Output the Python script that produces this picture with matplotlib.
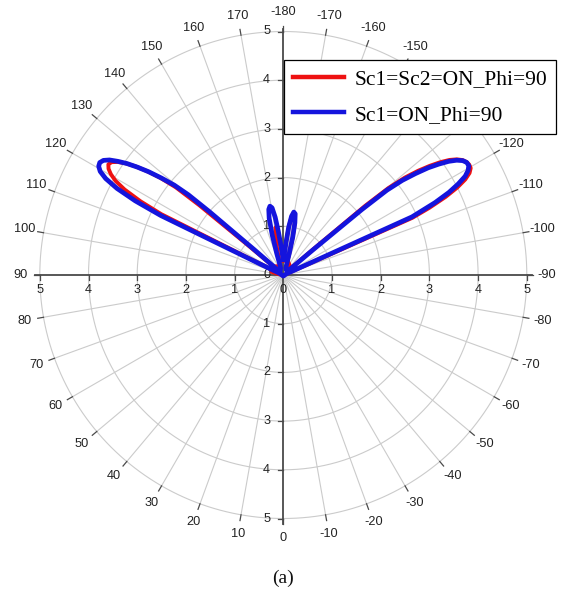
import numpy as np
import matplotlib
matplotlib.use("Agg")
import matplotlib.pyplot as plt

# ---------------- data ----------------
series_labels = ["Sc1=Sc2=ON_Phi=90", "Sc1=ON_Phi=90"]

# Sc1=Sc2=ON (red): angle in degrees, magnitude
red_deg = [-180, -177, -175, -173.5, -172, -170.5, -169, -167.5, -166, -164.5,
           -163, -158, -150, -140, -133, -131.3, -130.6, -130.2, -129.6, -128.7,
           -127.7, -126.7, -125.7, -124.7, -123.7, -122.7, -121.7, -120.7, -119.7, -118.7,
           -117.7, -116.7, -115.7, -114.7, -113.9, -113.3, -111, -105, -90, -60,
           -30, 0, 30, 60, 90, 100, 105, 110, 114, 115.8,
           116.5, 117.3, 118.3, 119.3, 120.3, 121.3, 122.3, 123.3, 124.3, 125.3,
           126.3, 127.3, 128.3, 129.2, 129.7, 130.1, 130.8, 135, 145, 155,
           162, 165, 167, 169, 170.5, 171.5, 172.5, 173.5, 175, 177,
           180]
red_r = [0.3, 0.45, 0.7, 1.0, 1.2, 1.3, 1.27, 1.1, 0.8, 0.45,
         0.3, 0.28, 0.25, 0.2, 0.15, 0.3, 1.0, 2.2, 2.8, 3.2,
         3.5, 3.75, 3.97, 4.15, 4.28, 4.37, 4.42, 4.44, 4.43, 4.36,
         4.22, 4.0, 3.7, 3.3, 2.9, 0.5, 0.1, 0.05, 0.03, 0.02,
         0.02, 0.02, 0.02, 0.02, 0.03, 0.1, 0.25, 0.25, 0.15, 0.5,
         2.8, 3.3, 3.7, 3.95, 4.1, 4.2, 4.25, 4.22, 4.12, 3.97,
         3.77, 3.52, 3.22, 2.85, 2.25, 1.0, 0.3, 0.25, 0.22, 0.2,
         0.2, 0.35, 0.6, 0.85, 0.98, 1.0, 0.92, 0.75, 0.6, 0.45,
         0.3]

# Sc1=ON (blue)
blue_deg = [-180, -177, -175, -173.5, -172, -170.5, -169, -167.5, -166, -164.5,
            -163, -160, -150, -140, -133, -131, -130.3, -129.8, -129.3, -128.5,
            -127.5, -126.5, -125.5, -124.5, -123.5, -122.5, -121.5, -120.5, -119.5, -118.5,
            -117.5, -116.5, -115.5, -114.3, -113.6, -112, -100, -90, -60, -30,
            0, 30, 60, 90, 100, 110, 113, 115, 115.3, 115.9,
            116.6, 117.5, 118.5, 119.5, 120.5, 121.5, 122.5, 123.5, 124.5, 125.5,
            126.5, 127.5, 128.5, 129.5, 130.2, 130.6, 131.1, 131.8, 133, 140,
            150, 158, 161, 163, 164.5, 166, 167.5, 169, 170.5, 172,
            173.5, 175, 177, 180]
blue_r = [0.32, 0.45, 0.7, 1.0, 1.22, 1.31, 1.28, 1.1, 0.8, 0.45,
          0.25, 0.15, 0.12, 0.12, 0.12, 0.2, 0.8, 2.1, 2.75, 3.12,
          3.42, 3.7, 3.92, 4.12, 4.27, 4.37, 4.42, 4.42, 4.36, 4.25,
          4.05, 3.8, 3.45, 2.9, 0.3, 0.08, 0.04, 0.03, 0.02, 0.02,
          0.02, 0.02, 0.02, 0.03, 0.04, 0.06, 0.08, 0.12, 0.5, 2.8,
          3.4, 3.85, 4.15, 4.32, 4.4, 4.42, 4.38, 4.28, 4.12, 3.94,
          3.72, 3.48, 3.2, 2.9, 2.55, 2.0, 0.8, 0.2, 0.12, 0.1,
          0.12, 0.15, 0.2, 0.45, 0.85, 1.2, 1.38, 1.44, 1.4, 1.2,
          0.9, 0.65, 0.45, 0.32]

radial_ticks = [1, 2, 3, 4, 5]
# -130 and -140 are hidden behind the legend in the reference
angle_ticks = [a for a in range(-170, 181, 10) if a not in (-130, -140)]
angle_labels = ["-180" if a == 180 else str(a) for a in angle_ticks]
caption = "(a)"

# ---------------- figure ----------------
W, H = 563, 603
fig = plt.figure(figsize=(W / 100, H / 100), dpi=100)
fig.patch.set_facecolor("white")

cx, cy, R = 283.3, 275.0, 243.5
ax = fig.add_axes([(cx - R) / W, (H - cy - R) / H, 2 * R / W, 2 * R / H],
                  projection="polar")
ax.set_theta_zero_location("S")
ax.set_theta_direction(-1)
ax.set_ylim(0, 5)
ax.set_xticks([])
ax.set_yticks([])
ax.grid(False)
ax.spines["polar"].set_visible(False)
ax.patch.set_alpha(0)

GRID = "#cbcbcb"
AXC = "#4a4a4a"
TXT = "#222222"
FS = 9.2
sans = ["Liberation Sans", "DejaVu Sans"]
serif = ["Liberation Serif", "DejaVu Serif"]


def cart(x, y):
    """cartesian (x right, y up) -> (theta radians, r) for this polar layout"""
    x = np.asarray(x, float)
    y = np.asarray(y, float)
    return np.arctan2(-x, -y), np.hypot(x, y)


# grid circles
tt = np.linspace(0, 2 * np.pi, 721)
for rr in radial_ticks:
    ax.plot(tt, np.full_like(tt, rr), color=GRID, lw=0.8, zorder=1, clip_on=False)
# spokes
for a in range(0, 360, 10):
    if a % 90 == 0:
        continue
    ax.plot([np.deg2rad(a)] * 2, [0, 5], color=GRID, lw=0.8, zorder=1)
# angular tick marks
for a in range(-170, 181, 10):
    ax.plot([np.deg2rad(a)] * 2, [5.0, 5.12], color=AXC, lw=0.9, zorder=2, clip_on=False)
# angular labels
for a, lab in zip(angle_ticks, angle_labels):
    ax.text(np.deg2rad(a), 5.4, lab, ha="center", va="center", fontsize=FS,
            color=TXT, family=sans, clip_on=False)

# cartesian cross axes
t, r = cart([-5.1, 5.1], [0, 0])
ax.plot([t[0], t[0]], [0, r[0]], color=AXC, lw=1.3, zorder=3, clip_on=False)
ax.plot([t[1], t[1]], [0, r[1]], color=AXC, lw=1.3, zorder=3, clip_on=False)
ax.plot([np.pi, np.pi], [0, 5.05], color=AXC, lw=1.3, zorder=3, clip_on=False)
ax.plot([0, 0], [0, 5.12], color=AXC, lw=1.3, zorder=3, clip_on=False)
for k in range(-5, 6):
    if k != 0:
        t, r = cart([k, k], [0, -0.11])
        ax.plot(t, r, color=AXC, lw=0.9, zorder=3, clip_on=False)
        t, r = cart([-0.11, 0], [k, k])
        ax.plot(t, r, color=AXC, lw=0.9, zorder=3, clip_on=False)
    t, r = cart([k], [-0.3])
    ax.text(t[0], r[0], str(abs(k)), ha="center", va="center", fontsize=FS,
            color=TXT, family=sans, zorder=3)
    t, r = cart([-0.34], [k])
    ax.text(t[0], r[0], str(abs(k)), ha="center", va="center", fontsize=FS,
            color=TXT, family=sans, zorder=3)

# data
l1, = ax.plot(np.deg2rad(red_deg), red_r, color="#ee1111", lw=2.8, zorder=5,
              solid_joinstyle="round", label=series_labels[0], clip_on=False)
l2, = ax.plot(np.deg2rad(blue_deg), blue_r, color="#1414dd", lw=3.4, zorder=6,
              solid_joinstyle="round", label=series_labels[1], clip_on=False)

leg = fig.legend(handles=[l1, l2], loc="upper left",
                 bbox_to_anchor=(284 / W, 1 - 60 / H), borderaxespad=0,
                 prop={"family": serif, "size": 15.5}, frameon=True,
                 fancybox=False, edgecolor="black", framealpha=1,
                 handlelength=2.35, handletextpad=0.5, labelspacing=0.72,
                 borderpad=0.42)
leg.get_frame().set_linewidth(0.9)
for h in leg.legend_handles:
    h.set_linewidth(3.2)

fig.text(cx / W, 1 - 578 / H, caption, ha="center", va="center",
         fontsize=14, family=serif, color="#111111")

fig.savefig("out.png", dpi=100, facecolor="white")
